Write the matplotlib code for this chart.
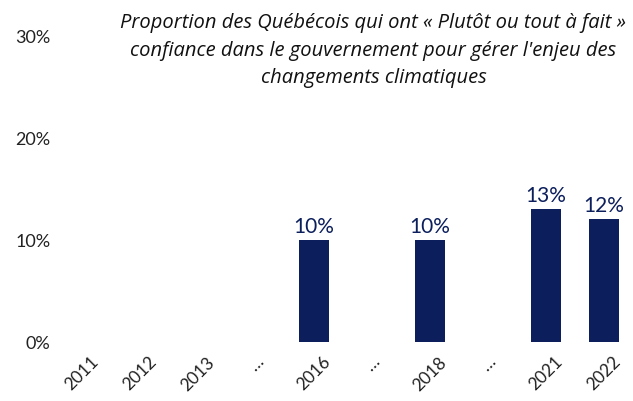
import matplotlib.pyplot as plt

categories = ['2011', '2012', '2013', '…', '2016', '…', '2018', '…', '2021', '2022']
values = [None, None, None, None, 10, None, 10, None, 13, 12]
yticks = [0, 10, 20, 30]

navy = '#0c1f5c'
plt.rcParams['font.family'] = ['Lato', 'DejaVu Sans']

fig = plt.figure(figsize=(6.33, 4.02), dpi=100)
ax = fig.add_axes([0.084, 0.147, 0.916, 0.763])

xs = [i for i, v in enumerate(values) if v is not None]
vs = [v for v in values if v is not None]
bars = ax.bar(xs, vs, width=0.52, color=navy)
for x, v in zip(xs, vs):
    ax.text(x, v + 0.4, f'{v}%', ha='center', va='bottom', fontsize=15, color=navy)

ax.set_xlim(-0.5, len(categories) - 0.5)
ax.set_ylim(0, 30)
ax.set_yticks(yticks)
ax.set_yticklabels([f'{t}%' for t in yticks], fontsize=13, color='#222222')
ax.set_xticks(range(len(categories)))
ax.set_xticklabels(categories, rotation=45, ha='center', fontsize=12.5, color='#222222')
ax.tick_params(length=0)
ax.tick_params(axis='x', pad=8)
ax.tick_params(axis='y', pad=2)
for s in ax.spines.values():
    s.set_visible(False)

fig.text(0.59, 0.967,
         'Proportion des Québécois qui ont « Plutôt ou tout à fait »\n'
         'confiance dans le gouvernement pour gérer l\'enjeu des\n'
         'changements climatiques',
         ha='center', va='top', fontsize=14.5, style='italic', linespacing=1.5,
         color='#111111', family=['Open Sans', 'DejaVu Sans'])

fig.savefig('out.png', dpi=100)
